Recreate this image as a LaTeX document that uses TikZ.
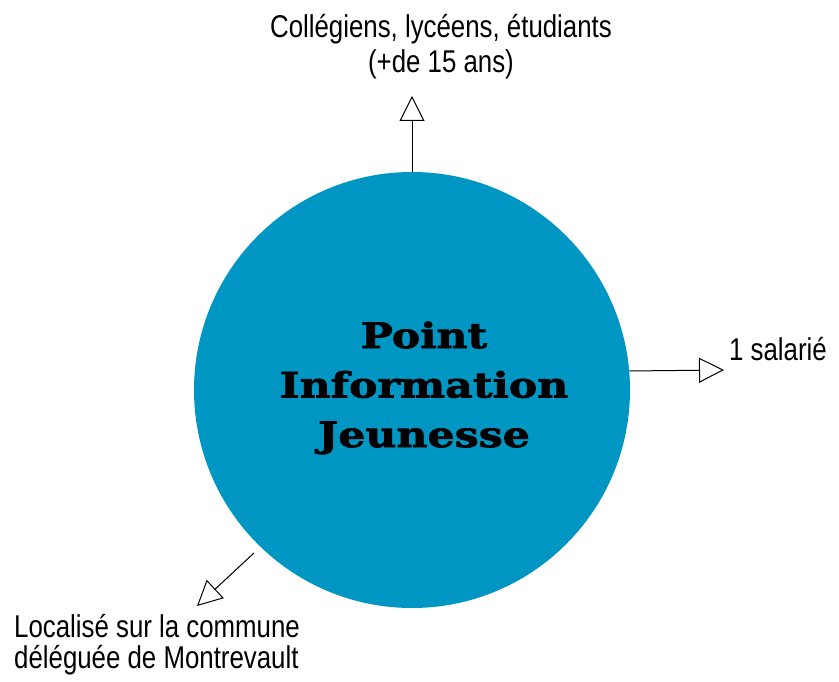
\documentclass[tikz,border=0pt]{standalone}
\usepackage{fontspec}
\setmainfont[FakeStretch=0.82]{Liberation Sans}
\newfontfamily\slabfont[FakeStretch=1.22, FakeBold=2]{DejaVu Serif}
\usetikzlibrary{arrows.meta}
\definecolor{pijblue}{RGB}{0,150,195}

\begin{document}
\begin{tikzpicture}[x=1pt, y=-1pt]
\tikzstyle{main} = [circle, minimum size=436pt, inner sep=0pt, fill=pijblue]
\tikzstyle{title} = [inner sep=0pt, align=center, font=\slabfont\bfseries\fontsize{35}{49.5}\selectfont]
\tikzstyle{note} = [inner sep=0pt, align=center, font=\fontsize{31.5}{35}\selectfont]
\tikzstyle{connect} = [-{Triangle[open, length=25pt, width=25pt]}, line width=1pt]
\useasboundingbox (0,0) rectangle (839,682);
  \node[main] (pij) at (412,390) {};
  \node[title, anchor=base] (name) at (424,447) {Point\\Information\\Jeunesse};
  \node[note, anchor=base] (public) at (441,73) {Collégiens, lycéens, étudiants\\(+de 15 ans)};
  \node[note, anchor=base west] (staff) at (729,360) {1 salarié};
  \node[note, anchor=base west, align=left, font=\fontsize{31.5}{31}\selectfont] (place) at (14,668) {Localisé sur la commune\\déléguée de Montrevault};
  \coordinate (public tip) at (412,96);
  \coordinate (staff tip) at (724,370);
  \coordinate (place tip) at (197,606);
\draw[connect] (pij.north) -- (public tip);
\draw[connect] (pij.5.8) -- (staff tip);
\draw[connect, shorten <=9pt] (pij.226) -- (place tip);
\end{tikzpicture}
\end{document}
